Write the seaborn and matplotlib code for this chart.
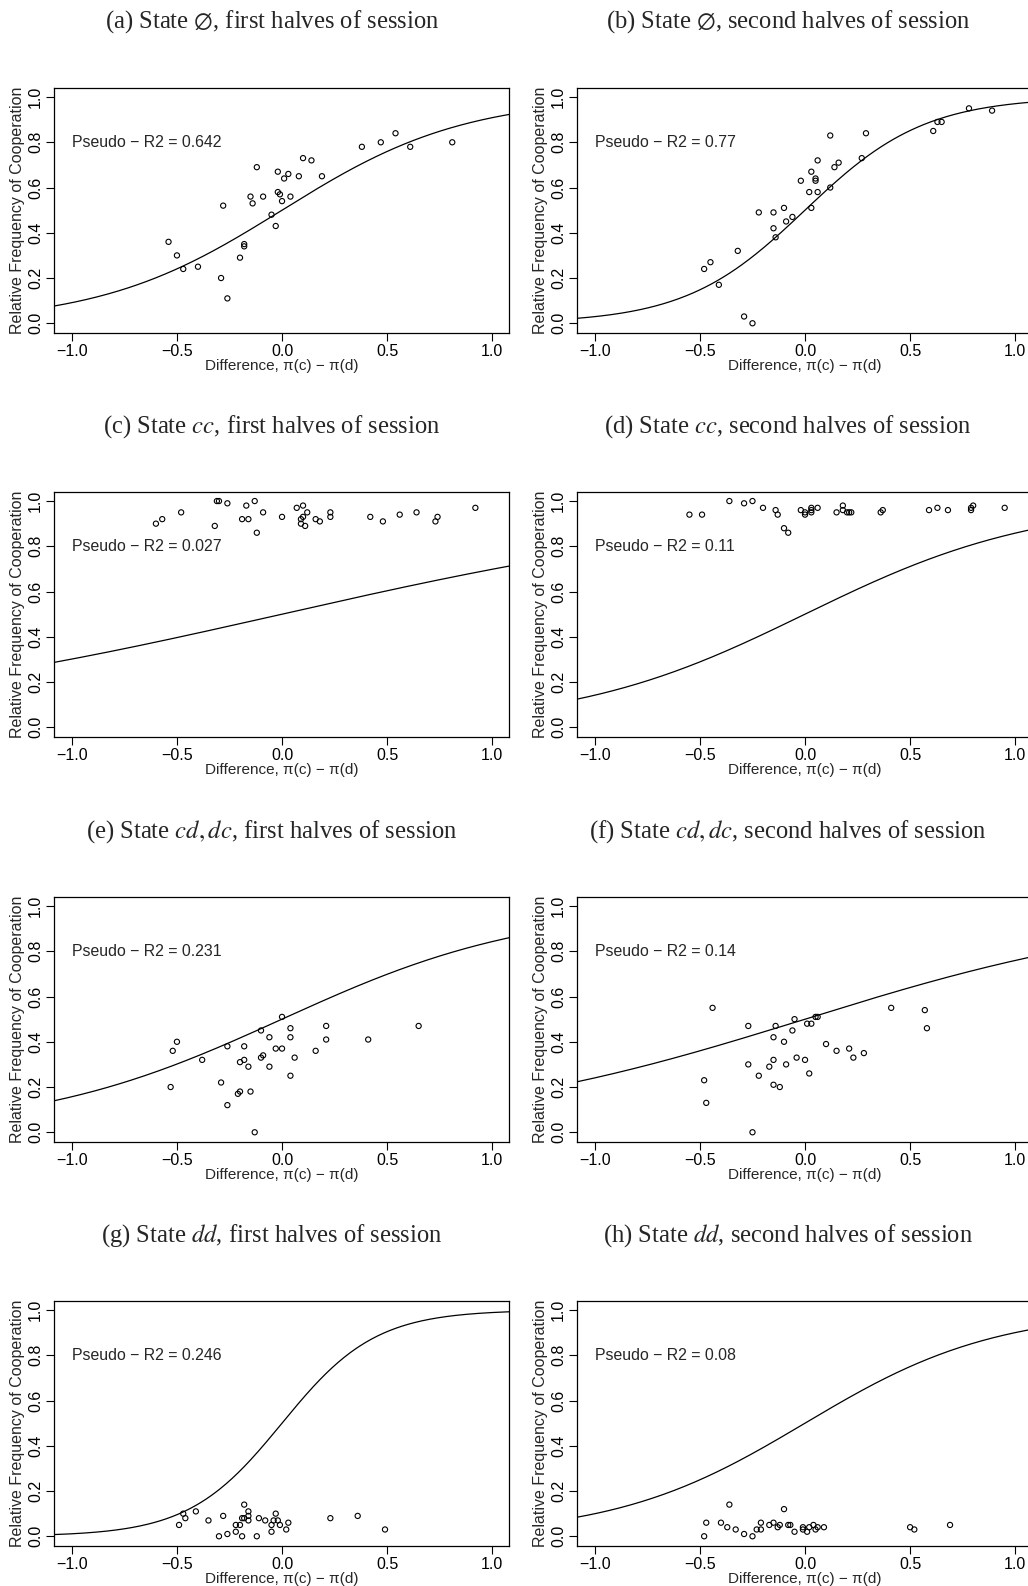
import numpy as np
import matplotlib
matplotlib.use("Agg")
import matplotlib.pyplot as plt
import seaborn as sns

sns.set_theme(style="ticks")
plt.rcParams["font.family"] = ["Liberation Sans", "DejaVu Sans"]
plt.rcParams["mathtext.fontset"] = "stix"

# ---------------------------------------------------------------
# data (x = pi(c) - pi(d), y = rel. freq. of cooperation)
# ---------------------------------------------------------------
a_x = [-0.54, -0.50, -0.47, -0.40, -0.29, -0.28, -0.26, -0.20, -0.18, -0.18, -0.15, -0.14,
       -0.12, -0.09, -0.05, -0.03, -0.02, -0.02, -0.01, 0.00, 0.01, 0.03, 0.04, 0.08, 0.10,
       0.14, 0.19, 0.38, 0.47, 0.54, 0.61, 0.81]
a_y = [0.36, 0.30, 0.24, 0.25, 0.20, 0.52, 0.11, 0.29, 0.35, 0.34, 0.56, 0.53,
       0.69, 0.56, 0.48, 0.43, 0.67, 0.58, 0.57, 0.54, 0.64, 0.66, 0.56, 0.65, 0.73,
       0.72, 0.65, 0.78, 0.80, 0.84, 0.78, 0.80]

b_x = [-0.48, -0.45, -0.41, -0.32, -0.29, -0.25, -0.22, -0.15, -0.15, -0.14, -0.10, -0.09,
       -0.06, -0.02, 0.02, 0.03, 0.03, 0.05, 0.05, 0.06, 0.06, 0.12, 0.12, 0.14, 0.16,
       0.27, 0.29, 0.61, 0.63, 0.65, 0.78, 0.89]
b_y = [0.24, 0.27, 0.17, 0.32, 0.03, 0.00, 0.49, 0.49, 0.42, 0.38, 0.51, 0.45,
       0.47, 0.63, 0.58, 0.67, 0.51, 0.64, 0.63, 0.72, 0.58, 0.83, 0.60, 0.69, 0.71,
       0.73, 0.84, 0.85, 0.89, 0.89, 0.95, 0.94]

c_x = [-0.60, -0.57, -0.48, -0.32, -0.31, -0.30, -0.26, -0.19, -0.17, -0.16, -0.13, -0.12,
       -0.09, 0.00, 0.07, 0.09, 0.09, 0.10, 0.10, 0.11, 0.12, 0.16, 0.18, 0.23, 0.23,
       0.42, 0.48, 0.56, 0.64, 0.73, 0.74, 0.92]
c_y = [0.90, 0.92, 0.95, 0.89, 1.00, 1.00, 0.99, 0.92, 0.98, 0.92, 1.00, 0.86,
       0.95, 0.93, 0.97, 0.92, 0.90, 0.98, 0.93, 0.89, 0.95, 0.92, 0.91, 0.95, 0.93,
       0.93, 0.91, 0.94, 0.95, 0.91, 0.93, 0.97]

d_x = [-0.55, -0.49, -0.36, -0.29, -0.25, -0.20, -0.14, -0.13, -0.10, -0.08, -0.02, 0.00,
       0.00, 0.03, 0.03, 0.03, 0.06, 0.15, 0.18, 0.18, 0.20, 0.21, 0.22, 0.36, 0.37,
       0.59, 0.63, 0.68, 0.79, 0.79, 0.80, 0.95]
d_y = [0.94, 0.94, 1.00, 0.99, 1.00, 0.97, 0.96, 0.94, 0.88, 0.86, 0.96, 0.95,
       0.94, 0.97, 0.96, 0.95, 0.97, 0.95, 0.98, 0.96, 0.95, 0.95, 0.95, 0.95, 0.96,
       0.96, 0.97, 0.96, 0.96, 0.97, 0.98, 0.97]

e_x = [-0.53, -0.52, -0.50, -0.38, -0.29, -0.26, -0.26, -0.21, -0.20, -0.20, -0.18, -0.18,
       -0.16, -0.15, -0.13, -0.10, -0.10, -0.09, -0.06, -0.06, -0.03, 0.00, 0.00, 0.04,
       0.04, 0.04, 0.06, 0.16, 0.21, 0.21, 0.41, 0.65]
e_y = [0.20, 0.36, 0.40, 0.32, 0.22, 0.38, 0.12, 0.17, 0.18, 0.31, 0.32, 0.38,
       0.29, 0.18, 0.00, 0.45, 0.33, 0.34, 0.42, 0.29, 0.37, 0.51, 0.37, 0.46,
       0.42, 0.25, 0.33, 0.36, 0.47, 0.41, 0.41, 0.47]

f_x = [-0.48, -0.47, -0.44, -0.27, -0.27, -0.25, -0.22, -0.17, -0.15, -0.15, -0.15, -0.14,
       -0.12, -0.10, -0.09, -0.06, -0.05, -0.04, 0.00, 0.01, 0.02, 0.03, 0.05, 0.06,
       0.10, 0.15, 0.21, 0.23, 0.28, 0.41, 0.57, 0.58]
f_y = [0.23, 0.13, 0.55, 0.47, 0.30, 0.00, 0.25, 0.29, 0.42, 0.32, 0.21, 0.47,
       0.20, 0.40, 0.30, 0.45, 0.50, 0.33, 0.32, 0.48, 0.26, 0.48, 0.51, 0.51,
       0.39, 0.36, 0.37, 0.33, 0.35, 0.55, 0.54, 0.46]

g_x = [-0.49, -0.47, -0.46, -0.41, -0.35, -0.30, -0.28, -0.26, -0.22, -0.22, -0.20, -0.19,
       -0.19, -0.18, -0.18, -0.16, -0.16, -0.16, -0.12, -0.11, -0.08, -0.05, -0.05, -0.04,
       -0.03, -0.02, -0.01, 0.02, 0.03, 0.23, 0.36, 0.49]
g_y = [0.05, 0.10, 0.08, 0.11, 0.07, 0.00, 0.09, 0.01, 0.05, 0.02, 0.05, 0.08,
       0.00, 0.14, 0.08, 0.11, 0.09, 0.07, 0.00, 0.08, 0.07, 0.05, 0.02, 0.07,
       0.10, 0.07, 0.05, 0.03, 0.06, 0.08, 0.09, 0.03]

h_x = [-0.48, -0.47, -0.40, -0.37, -0.36, -0.33, -0.29, -0.25, -0.23, -0.21, -0.21, -0.17,
       -0.15, -0.13, -0.12, -0.10, -0.08, -0.07, -0.05, -0.01, -0.01, 0.01, 0.02, 0.04,
       0.05, 0.06, 0.09, 0.50, 0.52, 0.69]
h_y = [0.00, 0.06, 0.06, 0.04, 0.14, 0.03, 0.01, 0.00, 0.03, 0.06, 0.03, 0.05,
       0.06, 0.04, 0.05, 0.12, 0.05, 0.05, 0.02, 0.04, 0.03, 0.02, 0.04, 0.05,
       0.03, 0.04, 0.04, 0.04, 0.03, 0.05]

# fitted logistic slopes (curve passes through 0.5 at x = 0)
slopes = [2.3, 3.5, 0.84, 1.8, 1.68, 1.15, 4.5, 2.2]
pseudo_r2 = ["0.642", "0.77", "0.027", "0.11", "0.231", "0.14", "0.246", "0.08"]
titles = [
    r"(a) State $\emptyset$, first halves of session",
    r"(b) State $\emptyset$, second halves of session",
    r"(c) State $cc$, first halves of session",
    r"(d) State $cc$, second halves of session",
    r"(e) State $cd,dc$, first halves of session",
    r"(f) State $cd,dc$, second halves of session",
    r"(g) State $dd$, first halves of session",
    r"(h) State $dd$, second halves of session",
]
xs = [a_x, b_x, c_x, d_x, e_x, f_x, g_x, h_x]
ys = [a_y, b_y, c_y, d_y, e_y, f_y, g_y, h_y]

W, H = 1028, 1586
fig = plt.figure(figsize=(W / 100, H / 100), dpi=100)

col_left = [54, 577]
row_top = [88, 492, 897, 1301]
title_y = [22, 427, 832, 1236]
title_x = [272, 788]
ax_w, ax_h = 455, 245

grid = np.linspace(-1.09, 1.09, 300)

for i in range(8):
    r, c = divmod(i, 2)
    ax = fig.add_axes([col_left[c] / W, 1 - (row_top[r] + ax_h) / H, ax_w / W, ax_h / H])
    prob = 1 / (1 + np.exp(-slopes[i] * grid))
    sns.lineplot(x=grid, y=prob, ax=ax, color="black", linewidth=0.9)
    sns.scatterplot(x=xs[i], y=ys[i], ax=ax, marker="o", s=14,
                    facecolor="none", edgecolor="black", linewidth=0.8)
    ax.set_xlim(-1.085, 1.08)
    ax.set_ylim(-0.043, 1.04)
    ax.set_xticks([-1.0, -0.5, 0.0, 0.5, 1.0])
    ax.set_xticklabels(["\u22121.0", "\u22120.5", "0.0", "0.5", "1.0"])
    ax.set_yticks([0.0, 0.2, 0.4, 0.6, 0.8, 1.0])
    ax.set_yticklabels(["0.0", "0.2", "0.4", "0.6", "0.8", "1.0"])
    ax.tick_params(direction="out", length=6, width=0.8, labelsize=11.5, pad=2, colors="black")
    plt.setp(ax.get_yticklabels(), rotation=90, va="center")
    for sp in ax.spines.values():
        sp.set_linewidth(0.9)
        sp.set_color("black")
    ax.set_xlabel("Difference, \u03c0(c) \u2212 \u03c0(d)", fontsize=11, labelpad=0)
    ax.set_ylabel("Relative Frequency of Cooperation", fontsize=11.5, labelpad=2)
    ax.text(-1.0, 0.8, f"Pseudo \u2212 R2 = {pseudo_r2[i]}", fontsize=11.4, ha="left", va="center")
    fig.text(title_x[c] / W, 1 - title_y[r] / H, titles[i], ha="center", va="center",
             fontsize=17.7, family=["Liberation Serif", "DejaVu Serif"])

fig.savefig("out.png", dpi=100)
